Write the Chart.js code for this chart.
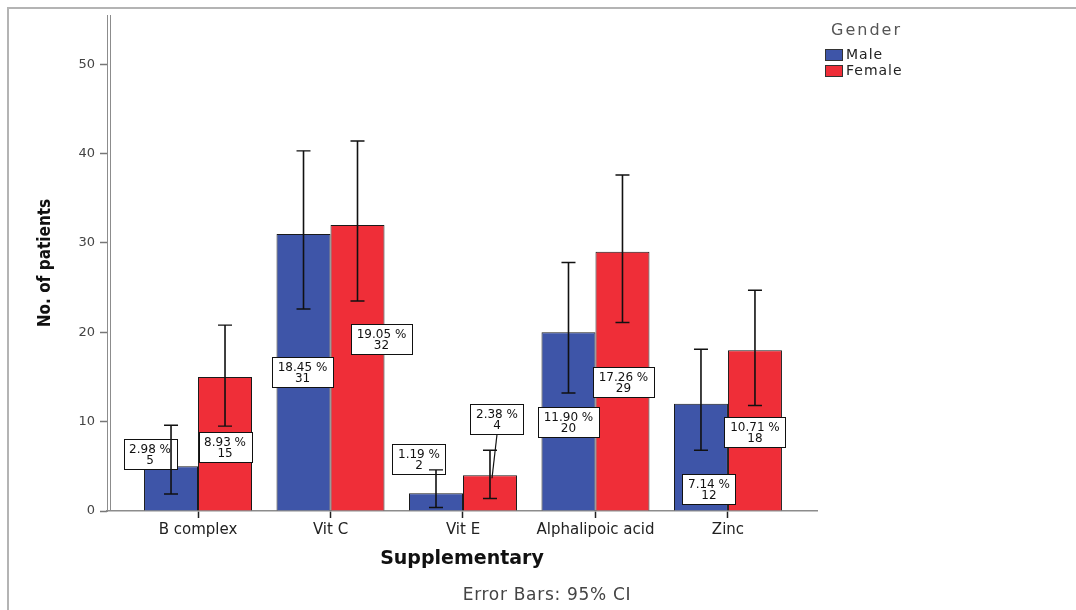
<!DOCTYPE html>
<html>
<head>
<meta charset="utf-8">
<script src="https://cdn.jsdelivr.net/npm/chart.js@4.4.1/dist/chart.umd.min.js"></script>
<style>
  html, body { margin: 0; padding: 0; background: #fff; }
  #wrap { width: 1076px; height: 610px; position: relative; }
</style>
</head>
<body>
<div id="wrap"><canvas id="c" width="1076" height="610"></canvas></div>
<script>
// ---- data ----
const categories = ['B complex', 'Vit C', 'Vit E', 'Alphalipoic acid', 'Zinc'];
const seriesNames = ['Male', 'Female'];
const maleCounts = [5, 31, 2, 20, 12];
const femaleCounts = [15, 32, 4, 29, 18];
const malePct = ['2.98', '18.45', '1.19', '11.90', '7.14'];
const femalePct = ['8.93', '19.05', '2.38', '17.26', '10.71'];
const maleCiLow = [1.9, 22.6, 0.4, 13.2, 6.8];
const maleCiHigh = [9.6, 40.3, 4.6, 27.8, 18.1];
const femaleCiLow = [9.5, 23.5, 1.4, 21.1, 11.8];
const femaleCiHigh = [20.8, 41.4, 6.8, 37.6, 24.7];
const yTicks = [0, 10, 20, 30, 40, 50];

// ---- layout of the value boxes (pixel offsets from the bar top centre) ----
const maleLabelOffset = [[-21, -12], [-1, 138], [-17, -34], [0, 90], [8, 85]];
const femaleLabelOffset = [[0, 70], [24, 114], [7, -56], [1, 130], [0, 82]];
const femaleLeader = [false, false, true, false, false];
const maleLeader = [false, false, false, false, false];

const BLUE = '#3E55A8';
const RED = '#EF2E38';

const series = [
  { counts: maleCounts, pct: malePct, lo: maleCiLow, hi: maleCiHigh, off: maleLabelOffset, leader: maleLeader },
  { counts: femaleCounts, pct: femalePct, lo: femaleCiLow, hi: femaleCiHigh, off: femaleLabelOffset, leader: femaleLeader }
];

const decor = {
  id: 'decor',
  beforeDraw(chart) {
    const ctx = chart.ctx;
    ctx.save();
    ctx.fillStyle = '#fff';
    ctx.fillRect(0, 0, chart.width, chart.height);
    // outer frame (top + left)
    ctx.strokeStyle = '#b4b4b4';
    ctx.lineWidth = 2;
    ctx.beginPath();
    ctx.moveTo(8, chart.height);
    ctx.lineTo(8, 8);
    ctx.lineTo(chart.width, 8);
    ctx.stroke();
    ctx.restore();
  },
  afterDatasetsDraw(chart) {
    const ctx = chart.ctx;
    const ys = chart.scales.y;
    const ca = chart.chartArea;
    ctx.save();
    // second line of the double y-axis
    ctx.strokeStyle = '#8c8c8c';
    ctx.lineWidth = 1;
    ctx.beginPath();
    ctx.moveTo(ca.left + 3.5, ca.top);
    ctx.lineTo(ca.left + 3.5, ca.bottom);
    ctx.stroke();

    // value boxes
    ctx.font = '12px "DejaVu Sans", sans-serif';
    ctx.textAlign = 'center';
    ctx.textBaseline = 'middle';
    series.forEach((s, di) => {
      const meta = chart.getDatasetMeta(di);
      meta.data.forEach((bar, i) => {
        const l1 = s.pct[i] + ' %';
        const l2 = String(s.counts[i]);
        const w = Math.round(ctx.measureText(l1).width + 11);
        const h = 30;
        const cx = bar.x + s.off[i][0];
        const cy = bar.y + s.off[i][1];
        const x0 = Math.round(cx - w / 2) + 0.5;
        const y0 = Math.round(cy - h / 2) + 0.5;
        if (s.leader[i]) {
          ctx.strokeStyle = '#111';
          ctx.lineWidth = 1.2;
          ctx.beginPath();
          ctx.moveTo(cx, y0 + h);
          ctx.lineTo(bar.x + 2, bar.y + 3);
          ctx.stroke();
        }
        ctx.fillStyle = '#fff';
        ctx.fillRect(x0, y0, w, h);
        ctx.strokeStyle = '#111';
        ctx.lineWidth = 1;
        ctx.strokeRect(x0, y0, w, h);
        ctx.fillStyle = '#111';
        ctx.fillText(l1, cx, y0 + h / 2 - 5);
        ctx.fillText(l2, cx, y0 + h / 2 + 6);
      });
    });

    // error bars (95% CI)
    ctx.strokeStyle = '#111';
    series.forEach((s, di) => {
      const meta = chart.getDatasetMeta(di);
      meta.data.forEach((bar, i) => {
        const x = bar.x;
        const yl = ys.getPixelForValue(s.lo[i]);
        const yh = ys.getPixelForValue(s.hi[i]);
        ctx.lineWidth = 1.6;
        ctx.beginPath();
        ctx.moveTo(x, yl);
        ctx.lineTo(x, yh);
        ctx.stroke();
        ctx.lineWidth = 1.4;
        ctx.beginPath();
        ctx.moveTo(x - 7, yh); ctx.lineTo(x + 7, yh);
        ctx.moveTo(x - 7, yl); ctx.lineTo(x + 7, yl);
        ctx.stroke();
      });
    });
    ctx.restore();
  },
  afterDraw(chart) {
    const ctx = chart.ctx;
    ctx.save();
    // legend
    ctx.textBaseline = 'middle';
    ctx.textAlign = 'left';
    ctx.font = '16px "DejaVu Sans", sans-serif';
    ctx.letterSpacing = '2px';
    ctx.fillStyle = '#555';
    ctx.fillText('Gender', 831, 31);
    ctx.font = '14px "DejaVu Sans", sans-serif';
    ctx.letterSpacing = '1px';
    chart.data.datasets.forEach((ds, i) => {
      const y = 49 + i * 16;
      ctx.fillStyle = ds.backgroundColor;
      ctx.fillRect(825, y, 18, 12);
      ctx.strokeStyle = '#333';
      ctx.lineWidth = 1;
      ctx.strokeRect(825.5, y + 0.5, 17, 11);
      ctx.fillStyle = '#222';
      ctx.fillText(ds.label, 846, y + 6);
    });
    // footnote
    ctx.font = '17px "DejaVu Sans", sans-serif';
    ctx.letterSpacing = '0.7px';
    ctx.textAlign = 'center';
    ctx.fillStyle = '#444';
    ctx.fillText('Error Bars: 95% CI', 547, 596);
    ctx.restore();
  }
};

const ctx = document.getElementById('c').getContext('2d');
new Chart(ctx, {
  type: 'bar',
  data: {
    datasets: [
      {
        label: seriesNames[0],
        data: maleCounts.map((v, i) => ({ x: i + 1, y: v })),
        backgroundColor: BLUE,
        borderColor: '#1a1a1a',
        borderWidth: 1
      },
      {
        label: seriesNames[1],
        data: femaleCounts.map((v, i) => ({ x: i + 1, y: v })),
        backgroundColor: RED,
        borderColor: '#1a1a1a',
        borderWidth: 1
      }
    ]
  },
  options: {
    responsive: false,
    animation: false,
    devicePixelRatio: 1,
    categoryPercentage: 0.815,
    barPercentage: 1,
    layout: { padding: { top: 15, right: 259, left: 0, bottom: 0 } },
    plugins: {
      legend: { display: false },
      tooltip: { enabled: false }
    },
    scales: {
      x: {
        type: 'linear',
        offset: false,
        min: 0.313,
        max: 5.672,
        afterFit(s) { s.height = 99; },
        afterBuildTicks(s) { s.ticks = categories.map((c, i) => ({ value: i + 1 })); },
        grid: { display: true, offset: false, drawOnChartArea: false, drawTicks: true, tickLength: 7, tickColor: '#222', tickWidth: 1.5 },
        border: { display: true, color: '#8c8c8c', width: 1.5 },
        ticks: {
          padding: 3,
          color: '#222',
          font: { family: '"DejaVu Sans", sans-serif', size: 15 },
          maxRotation: 0,
          autoSkip: false,
          callback: (v) => categories[Math.round(v) - 1]
        },
        title: {
          display: true,
          text: 'Supplementary',
          color: '#111',
          font: { family: '"DejaVu Sans", sans-serif', size: 19, weight: 'bold' },
          padding: { top: 0, bottom: 40 }
        }
      },
      y: {
        min: 0,
        max: 55.5,
        afterFit(s) { s.width = 107; },
        afterBuildTicks(s) { s.ticks = yTicks.map(v => ({ value: v })); },
        grid: { display: true, drawOnChartArea: false, drawTicks: true, tickLength: 7, tickColor: '#777', tickWidth: 1.5 },
        border: { display: true, color: '#8c8c8c', width: 1 },
        ticks: {
          padding: 5,
          color: '#444',
          font: { family: '"DejaVu Sans", sans-serif', size: 13 }
        },
        title: {
          display: true,
          text: 'No. of patients',
          color: '#111',
          font: { family: '"Liberation Sans Narrow", "DejaVu Sans Condensed", sans-serif', size: 17, weight: 'bold' },
          padding: { top: 35, bottom: 0 }
        }
      }
    }
  },
  plugins: [decor]
});
</script>
</body>
</html>
